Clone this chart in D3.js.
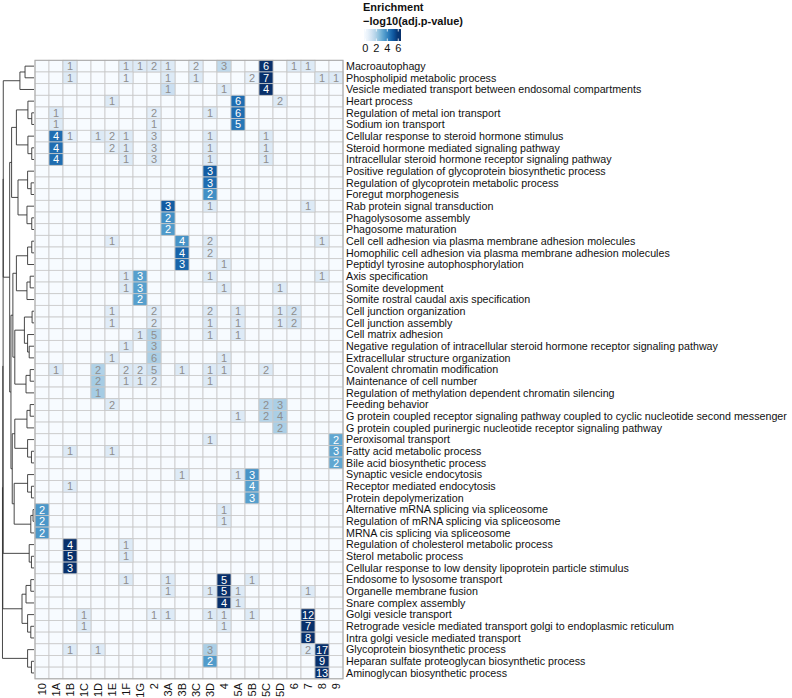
<!DOCTYPE html>
<html><head><meta charset="utf-8">
<script src="https://cdn.jsdelivr.net/npm/d3@7"></script>
<style>
body{margin:0;background:#fff}
svg{display:block}
text{font-family:"Liberation Sans",Arial,Helvetica,sans-serif}
</style>
</head><body>
<svg id="chart" width="792" height="698"></svg>
<script>
// ---------------- data ----------------
const clusters = ["10","1A","1B","1C","1D","1E","1F","1G","2","3A","3B","3C","3D","4","5A","5B","5C","5D","6","7","8","9"];

const terms = [
"Macroautophagy",
"Phospholipid metabolic process",
"Vesicle mediated transport between endosomal compartments",
"Heart process",
"Regulation of metal ion transport",
"Sodium ion transport",
"Cellular response to steroid hormone stimulus",
"Steroid hormone mediated signaling pathway",
"Intracellular steroid hormone receptor signaling pathway",
"Positive regulation of glycoprotein biosynthetic process",
"Regulation of glycoprotein metabolic process",
"Foregut morphogenesis",
"Rab protein signal transduction",
"Phagolysosome assembly",
"Phagosome maturation",
"Cell cell adhesion via plasma membrane adhesion molecules",
"Homophilic cell adhesion via plasma membrane adhesion molecules",
"Peptidyl tyrosine autophosphorylation",
"Axis specification",
"Somite development",
"Somite rostral caudal axis specification",
"Cell junction organization",
"Cell junction assembly",
"Cell matrix adhesion",
"Negative regulation of intracellular steroid hormone receptor signaling pathway",
"Extracellular structure organization",
"Covalent chromatin modification",
"Maintenance of cell number",
"Regulation of methylation dependent chromatin silencing",
"Feeding behavior",
"G protein coupled receptor signaling pathway coupled to cyclic nucleotide second messenger",
"G protein coupled purinergic nucleotide receptor signaling pathway",
"Peroxisomal transport",
"Fatty acid metabolic process",
"Bile acid biosynthetic process",
"Synaptic vesicle endocytosis",
"Receptor mediated endocytosis",
"Protein depolymerization",
"Alternative mRNA splicing via spliceosome",
"Regulation of mRNA splicing via spliceosome",
"MRNA cis splicing via spliceosome",
"Regulation of cholesterol metabolic process",
"Sterol metabolic process",
"Cellular response to low density lipoprotein particle stimulus",
"Endosome to lysosome transport",
"Organelle membrane fusion",
"Snare complex assembly",
"Golgi vesicle transport",
"Retrograde vesicle mediated transport golgi to endoplasmic reticulum",
"Intra golgi vesicle mediated transport",
"Glycoprotein biosynthetic process",
"Heparan sulfate proteoglycan biosynthetic process",
"Aminoglycan biosynthetic process"
];

// [term index, cluster, gene count (label), enrichment -log10(adj.p)]
const cells = [
[0,"1B",1,0.8],[0,"1F",1,0.8],[0,"1G",1,0.8],[0,"2",2,0.8],[0,"3A",1,0.8],[0,"3C",2,0.7],[0,"4",3,1.6],[0,"5C",6,6],[0,"6",1,0.8],[0,"7",1,0.8],
[1,"1B",1,0.8],[1,"1F",1,0.5],[1,"3A",1,0.8],[1,"3C",1,0.8],[1,"5B",2,0.5],[1,"5C",7,6],[1,"8",1,0.8],[1,"9",1,0.8],
[2,"3A",1,1.3],[2,"4",1,0.8],[2,"5C",4,6],
[3,"1E",1,0.8],[3,"5A",6,4.6],[3,"5D",2,0.8],
[4,"1A",1,0.8],[4,"2",2,0.6],[4,"3D",1,0.8],[4,"5A",6,4.6],
[5,"1A",1,0.8],[5,"2",1,0.6],[5,"5A",5,4.4],
[6,"1A",4,4.6],[6,"1B",1,0.6],[6,"1D",1,0.8],[6,"1E",2,0.6],[6,"1F",1,0.8],[6,"2",3,0.8],[6,"3D",1,0.8],[6,"5C",1,0.8],
[7,"1A",4,4.6],[7,"1E",2,0.6],[7,"1F",1,0.8],[7,"2",3,0.8],[7,"3D",1,0.8],[7,"5C",1,0.8],
[8,"1A",4,4.6],[8,"1F",1,0.8],[8,"2",3,0.8],[8,"3D",1,0.8],[8,"5C",1,0.8],
[9,"3D",3,5.0],
[10,"3D",3,4.6],
[11,"3D",2,3.8],
[12,"3A",3,5.0],[12,"3D",1,0.8],[12,"7",1,0.8],
[13,"3A",2,3.8],
[14,"3A",2,3.5],
[15,"1E",1,0.7],[15,"3B",4,3.7],[15,"3D",2,0.8],[15,"8",1,0.8],
[16,"3B",4,4.8],[16,"3D",2,0.8],
[17,"3B",3,4.8],[17,"4",1,0.8],
[18,"1F",1,0.8],[18,"1G",3,3.4],[18,"3D",1,0.8],[18,"8",1,0.8],
[19,"1F",1,0.8],[19,"1G",3,3.4],[19,"4",1,0.8],[19,"5D",1,0.8],
[20,"1G",2,3.4],
[21,"1E",1,0.7],[21,"2",2,0.8],[21,"3D",2,0.8],[21,"5A",1,0.8],[21,"5D",1,0.8],[21,"6",2,1.1],
[22,"1E",1,0.7],[22,"2",2,0.8],[22,"3D",1,0.8],[22,"5A",1,0.8],[22,"5D",1,0.8],[22,"6",2,1.1],
[23,"1G",1,0.8],[23,"2",5,1.9],[23,"3D",1,0.8],[23,"5A",1,0.8],
[24,"1F",1,0.8],[24,"2",3,1.9],
[25,"1E",1,0.8],[25,"2",6,2.0],[25,"4",1,0.8],
[26,"1A",1,0.8],[26,"1D",2,1.9],[26,"1F",2,0.8],[26,"1G",2,0.8],[26,"2",5,1.4],[26,"3B",1,0.8],[26,"3D",1,0.8],[26,"4",1,0.8],[26,"5C",2,0.8],
[27,"1D",2,2.1],[27,"1F",1,0.8],[27,"1G",1,0.8],[27,"2",2,0.8],[27,"3D",1,0.8],
[28,"1D",1,2.1],
[29,"1E",2,0.8],[29,"5C",2,1.8],[29,"5D",3,2.0],
[30,"5A",1,0.8],[30,"5C",2,1.8],[30,"5D",4,2.0],
[31,"5D",2,2.0],
[32,"3D",1,0.8],[32,"9",2,3.2],
[33,"1B",1,0.8],[33,"1E",1,0.8],[33,"9",3,3.3],
[34,"9",2,3.2],
[35,"3B",1,0.8],[35,"5A",1,0.8],[35,"5B",3,3.7],
[36,"1B",1,0.8],[36,"5B",4,3.4],
[37,"5B",3,3.4],
[38,"10",2,3.6],[38,"4",1,0.8],
[39,"10",2,3.6],[39,"4",1,0.8],
[40,"10",2,3.6],
[41,"1B",4,6],[41,"1F",1,0.8],
[42,"1B",5,6],[42,"1F",1,0.8],
[43,"1B",3,6],
[44,"1F",1,0.8],[44,"3A",1,0.8],[44,"4",5,6],[44,"5B",1,0.8],
[45,"3A",1,0.8],[45,"3D",1,0.8],[45,"4",5,6],[45,"5A",1,0.8],[45,"7",1,0.8],
[46,"4",4,6],[46,"5A",1,0.8],
[47,"1C",1,0.8],[47,"2",1,0.5],[47,"3A",1,0.8],[47,"3D",1,0.8],[47,"4",1,0.8],[47,"5B",1,0.8],[47,"7",12,6],
[48,"1C",1,0.8],[48,"4",1,0.8],[48,"7",7,6],
[49,"7",8,6],
[50,"1B",1,0.8],[50,"1D",1,0.8],[50,"3D",3,2.0],[50,"7",2,0.8],[50,"8",17,6],
[51,"3D",2,3.5],[51,"8",9,6],
[52,"8",13,6]
];

// row dendrogram: [left, right, merge height]; leaves are term indices
const dendrogram =
[[[[[[0,1,0.28],2,0.44],
    [[[[3,[4,5,0.07],0.19],[6,[7,8,0.07],0.19],0.55],
      [[9,[10,11,0.09],0.2],[12,[13,14,0.07],0.22],0.5],0.7],
     [[[[[15,16,0.07],17,0.2],[[18,19,0.12],20,0.22],0.55],
       [[[21,22,0.06],[23,[24,25,0.15],0.2],0.3],[[26,27,0.12],28,0.25],0.6],0.66],
      [[[[29,30,0.12],31,0.22],[32,[33,34,0.08],0.2],0.6],
       [[35,[36,37,0.08],0.2],[[38,39,0.03],40,0.1],0.62],0.68],0.72],0.76],0.96],
   [41,[42,43,0.08],0.15],0.965],
  [[[44,45,0.1],46,0.25],[47,[48,49,0.1],0.2],0.375],0.975],
 [50,[51,52,0.08],0.2],0.985];

const legendTicks = [0,2,4,6];

// ---------------- drawing ----------------
const svg = d3.select("#chart");
const x = d3.scaleBand().domain(clusters).range([35, 343]);
const y = d3.scaleBand().domain(d3.range(terms.length)).range([60.3, 678.8]);
const color = d3.scaleSequential(d3.interpolateBlues).domain([0, 6]).clamp(true);

// background grid (empty cells)
const g = svg.append("g");
const allCells = [];
terms.forEach((t, i) => clusters.forEach(c => allCells.push([i, c])));
g.selectAll("rect.bg").data(allCells).join("rect")
  .attr("class","bg")
  .attr("x", d => x(d[1])).attr("y", d => y(d[0]))
  .attr("width", x.bandwidth()).attr("height", y.bandwidth())
  .attr("fill", color(0)).attr("stroke", "#c9c9c9").attr("stroke-width", 0.8);

g.selectAll("rect.val").data(cells).join("rect")
  .attr("class","val")
  .attr("x", d => x(d[1])).attr("y", d => y(d[0]))
  .attr("width", x.bandwidth()).attr("height", y.bandwidth())
  .attr("fill", d => color(d[3])).attr("stroke", "#c9c9c9").attr("stroke-width", 0.8);

g.append("rect")
  .attr("x", 35).attr("y", 60.3).attr("width", 308).attr("height", 618.5)
  .attr("fill","none").attr("stroke","#a8a8a8").attr("stroke-width",1);

g.selectAll("text.num").data(cells).join("text")
  .attr("class","num")
  .attr("x", d => x(d[1]) + x.bandwidth()/2)
  .attr("y", d => y(d[0]) + y.bandwidth()/2)
  .attr("dy", "0.36em")
  .attr("text-anchor","middle")
  .attr("font-size", 11)
  .attr("fill", d => d[3] >= 3 ? "#ffffff" : "#8e8e8e")
  .text(d => d[2]);

// row labels
svg.append("g").selectAll("text").data(terms).join("text")
  .attr("x", 346)
  .attr("y", (d, i) => y(i) + y.bandwidth()/2)
  .attr("dy", "0.36em")
  .attr("font-size", 10.7)
  .attr("fill", "#111")
  .text(d => d);

// column labels
svg.append("g").selectAll("text").data(clusters).join("text")
  .attr("transform", d => `translate(${x(d) + x.bandwidth()/2},683) rotate(-90)`)
  .attr("dy", "0.36em")
  .attr("text-anchor", "end")
  .attr("font-size", 11)
  .attr("fill", "#111")
  .text(d => d);

// dendrogram
const hx = d3.scaleLinear().domain([0, 1]).range([34, 2]);
const dg = svg.append("g").attr("fill","none").attr("stroke","#333").attr("stroke-width",0.9);
function layout(node) {
  if (typeof node === "number") return { x: hx(0), y: y(node) + y.bandwidth()/2 };
  const a = layout(node[0]), b = layout(node[1]);
  const nx = hx(node[2]);
  dg.append("path").attr("d", `M${a.x},${a.y}H${nx}V${b.y}H${b.x}`);
  return { x: nx, y: (a.y + b.y) / 2 };
}
layout(dendrogram);

// legend
const lg = svg.append("g");
lg.append("text").attr("x", 363).attr("y", 11).attr("font-size", 11).attr("font-weight","bold").attr("fill","#111").text("Enrichment");
lg.append("text").attr("x", 363).attr("y", 25).attr("font-size", 11).attr("font-weight","bold").attr("fill","#111").text("\u2212log10(adj.p-value)");
const lx = d3.scaleLinear().domain([-0.25, 6.5]).range([364, 401]);
const grad = svg.append("defs").append("linearGradient").attr("id","lgGrad");
d3.range(0, 1.0001, 0.1).forEach(t => {
  const v = lx.domain()[0] + t * (lx.domain()[1] - lx.domain()[0]);
  grad.append("stop").attr("offset", t).attr("stop-color", color(v));
});
lg.append("rect").attr("x", lx.range()[0]).attr("y", 29).attr("width", lx.range()[1] - lx.range()[0]).attr("height", 12).attr("fill","url(#lgGrad)");
lg.selectAll("line.t1").data(legendTicks).join("line")
  .attr("x1", d => lx(d)).attr("x2", d => lx(d)).attr("y1", 29).attr("y2", 31.5)
  .attr("stroke","#fff").attr("stroke-width",0.8);
lg.selectAll("line.t2").data(legendTicks).join("line")
  .attr("x1", d => lx(d)).attr("x2", d => lx(d)).attr("y1", 38.5).attr("y2", 41)
  .attr("stroke","#fff").attr("stroke-width",0.8);
lg.selectAll("text.tk").data(legendTicks).join("text")
  .attr("x", d => lx(d)).attr("y", 52).attr("text-anchor","middle")
  .attr("font-size", 11).attr("fill","#111").text(d => d);
</script>
</body></html>
